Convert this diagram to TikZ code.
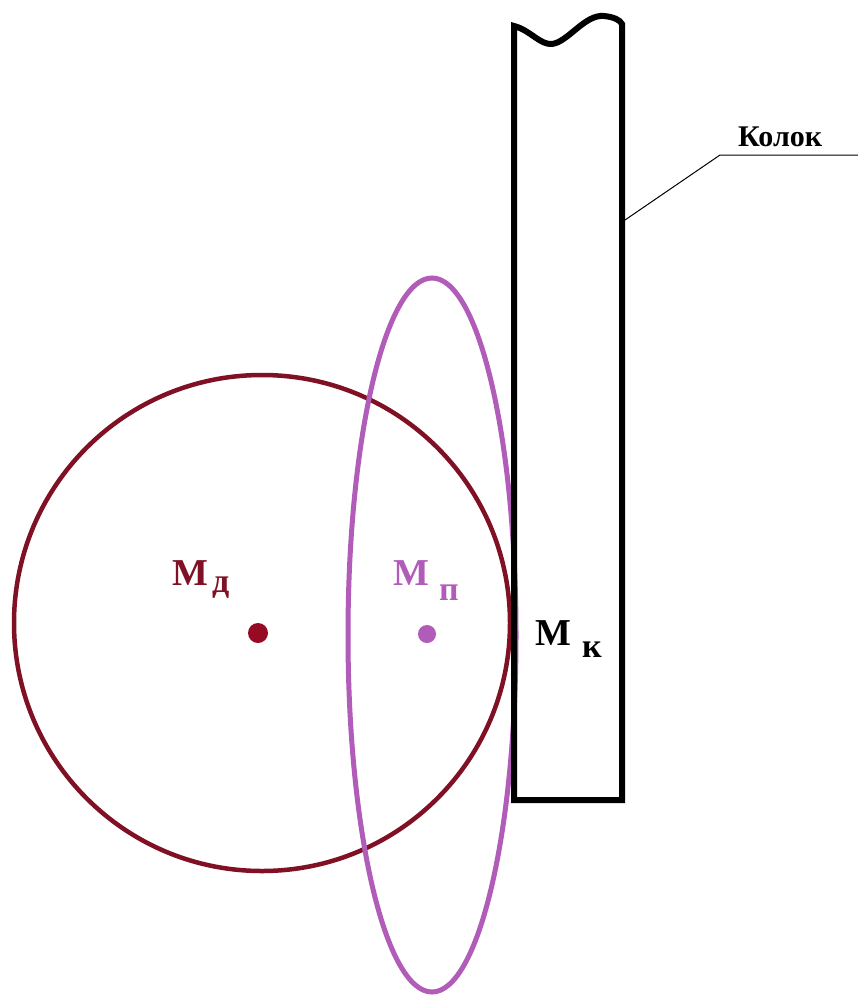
\documentclass[tikz,border=0pt]{standalone}
\usepackage{fontspec}
\setmainfont{Liberation Serif}
\definecolor{dred}{RGB}{128,16,36}
\definecolor{dreddot}{RGB}{150,10,35}
\definecolor{purp}{RGB}{176,92,184}
\tikzset{
  lbl/.style={anchor=base west, inner sep=0pt, font=\fontsize{38}{42}\selectfont\bfseries},
  sub/.style={anchor=base west, inner sep=0pt, font=\fontsize{34}{38}\selectfont\bfseries},
  post/.style={line width=6pt, line join=miter},
}
\begin{document}
\begin{tikzpicture}[x=1pt,y=-1pt]
\useasboundingbox (0,0) rectangle (858,996);
\fill[white] (0,0) rectangle (858,996);
% circle and ellipse
\draw[dred, line width=4.5pt] (262,623) circle [radius=248];
\draw[purp, line width=5pt] (432,635) ellipse [x radius=84, y radius=357];
% post
\draw[post] (622,800) -- (514,800) -- (514,26)
  .. controls (530,30) and (540,45) .. (552,44)
  .. controls (568,42) and (585,14) .. (604,16)
  .. controls (614,17) and (620,20) .. (622,24) -- cycle;
% dots
\fill[dreddot] (258,633) circle [radius=10];
\fill[purp] (427,634) circle [radius=9];
% labels
\node[lbl, text=dred] (md) at (172,585) {М};
\node[sub, text=dred] (mds) at (212,592) {д};
\node[lbl, text=purp] (mp) at (393,585) {М};
\node[sub, text=purp] (mps) at (439,600) {п};
\node[lbl] (mk) at (535,645) {М};
\node[sub] (mks) at (582,657) {к};
% leader
\coordinate (lstart) at (625,220);
\coordinate (lknee) at (720,155);
\coordinate (lend) at (858,155);
\draw[line width=1pt] (lstart) -- (lknee) -- (lend);
\node[anchor=base west, inner sep=0pt, font=\fontsize{30}{34}\selectfont\bfseries] (kolok) at (738,146) {Колок};
\end{tikzpicture}
\end{document}
